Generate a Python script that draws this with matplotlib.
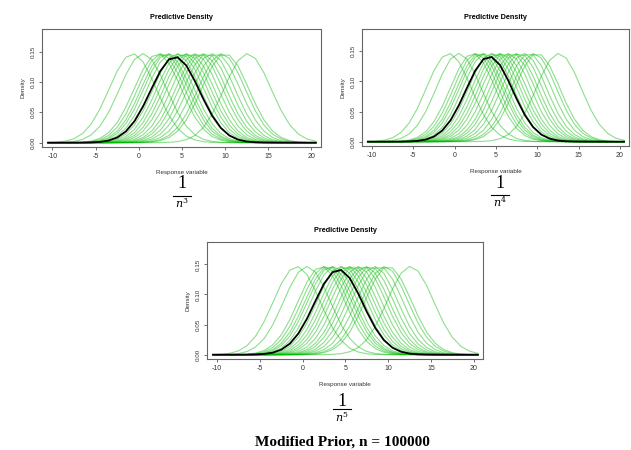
import numpy as np
import matplotlib.pyplot as plt
from matplotlib.lines import Line2D

# centres of the green predictive densities
green_means = [-0.7, 0.5, 2.2, 2.6, 3.0, 3.3, 3.7, 4.4, 4.8, 5.2, 5.6, 6.0,
               6.5, 7.0, 7.4, 7.9, 8.4, 9.0, 9.6, 10.0, 12.6]
green_sd = 2.72
black_mean = 4.2
black_sd = 2.82
grid = np.arange(-10.5, 21.5, 1.0)

x_ticks = [-10, -5, 0, 5, 10, 15, 20]
y_ticks = [0.00, 0.05, 0.10, 0.15]
y_ticklabels = ["0.00", "0.05", "0.10", "0.15"]
powers = ["3", "4", "5"]


def npdf(x, m, s):
    return np.exp(-0.5 * ((x - m) / s) ** 2) / (s * np.sqrt(2 * np.pi))


def draw_panel(ax):
    for m in green_means:
        ax.plot(grid, npdf(grid, m, green_sd), color=(0.0, 0.72, 0.0), alpha=0.45, lw=0.8)
    ax.plot(grid, npdf(grid, black_mean, black_sd), color='black', lw=1.3)
    ax.set_xlim(-11.2, 21.1)
    ax.set_ylim(-0.0072, 0.1872)
    ax.set_xticks(x_ticks)
    ax.set_xticklabels([str(t) for t in x_ticks], fontsize=5)
    ax.set_yticks(y_ticks)
    ax.set_yticklabels(y_ticklabels, fontsize=4.5, rotation=90, va='center')
    ax.tick_params(length=2.5, width=0.5, pad=2, colors='#333333')
    for s in ax.spines.values():
        s.set_color('#666666')
        s.set_linewidth(0.8)
    ax.set_title("Predictive Density", fontsize=5.2, fontweight='bold', pad=7)
    ax.set_xlabel("Response variable", fontsize=4.5, labelpad=7, color='#333333')
    ax.set_ylabel("Density", fontsize=4.5, labelpad=4, color='#333333')


def fraction(fig, xc, y_one, y_bar, y_n, p):
    W, H = 631, 450
    fig.text(xc / W, 1 - y_one / H, "1", ha='center', va='center',
             fontsize=13, family='Liberation Serif')
    fig.add_artist(Line2D([(xc - 9) / W, (xc + 9) / W], [1 - y_bar / H, 1 - y_bar / H],
                          color='black', lw=0.8, transform=fig.transFigure))
    fig.text(xc / W, 1 - y_n / H, r"$n^{%s}$" % p, ha='center', va='center',
             fontsize=8, family='Liberation Serif', math_fontfamily='dejavuserif')


fig = plt.figure(figsize=(6.31, 4.5), dpi=100)
plt.rcParams['font.family'] = ['Liberation Sans', 'DejaVu Sans']

ax1 = fig.add_axes([0.0666, 0.6733, 0.4421, 0.2622])
ax2 = fig.add_axes([0.5737, 0.6756, 0.4231, 0.2600])
ax3 = fig.add_axes([0.3280, 0.2022, 0.4375, 0.2600])
for ax in (ax1, ax2, ax3):
    draw_panel(ax)

fraction(fig, 182, 184, 196, 203, powers[0])
fraction(fig, 500, 183, 195, 202, powers[1])
fraction(fig, 342, 401, 409, 417, powers[2])

fig.text(342 / 631, 1 - 442 / 450, "Modified Prior, n = 100000", ha='center', va='center',
         fontsize=11, fontweight='bold', family='Liberation Serif')

fig.savefig("out.png", dpi=100)
